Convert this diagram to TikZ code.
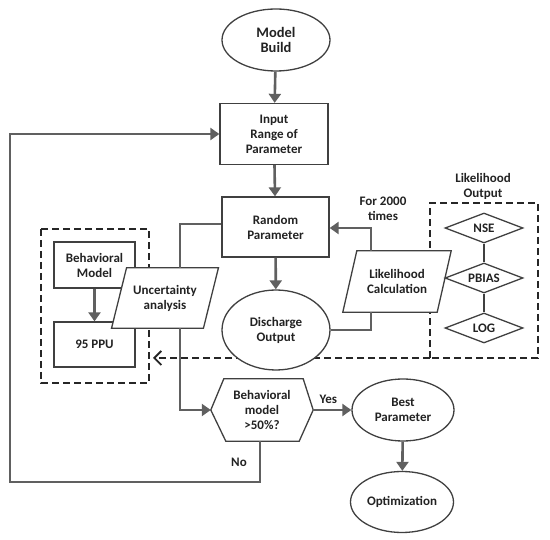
\documentclass[tikz,border=0pt]{standalone}
\usepackage{fontspec}
\setmainfont{Carlito}
\usetikzlibrary{arrows.meta,shapes.geometric,calc}
\definecolor{conn}{HTML}{606060}
\definecolor{bord}{HTML}{404040}
\definecolor{txtc}{HTML}{222222}
\tikzset{
  every node/.style={font=\bfseries\fontsize{13}{15}\selectfont, text=txtc, align=center, inner sep=0pt},
  boxst/.style={draw=bord, line width=1.3pt, rectangle, minimum width=#1},
  ellst/.style={draw=bord, line width=1.3pt, ellipse},
  plain/.style={minimum width=#1},
  diast/.style={draw=bord, line width=1.3pt, diamond, aspect=2.6, minimum width=78pt, minimum height=30pt},
  conline/.style={draw=conn, line width=2.6pt},
  arr/.style={conline, -{Triangle[length=9pt,width=12pt]}},
  shapeline/.style={draw=bord, line width=1.3pt},
  dashst/.style={draw=black!85, line width=1.8pt, dash pattern=on 7pt off 4pt},
}
\begin{document}
\begin{tikzpicture}[x=1pt,y=-1pt]
\useasboundingbox (0,0) rectangle (550,540);
% dashed boxes (behind the parallelograms)
\draw[dashst] (41,229) rectangle (149,383);
\coordinate (lotl) at (430,203);
\coordinate (lobr) at (538,358);
\coordinate (lobl) at (430,358);
\coordinate (dtip) at (153,358);
\draw[dashst] (lobl) -- (lotl) -- (538,203) -- (lobr) -- (lobl);
\draw[dashst, -{Straight Barb[length=7pt,width=14pt]}] (lobl) -- (dtip);
% nodes
\node[ellst, minimum width=108pt, minimum height=62pt, font=\bfseries\fontsize{14.5}{14.5}\selectfont] (mb) at (276,40) {Model\\Build};
\node[boxst=108pt, minimum height=61pt] (inp) at (274,134) {Input\\Range of\\Parameter};
\node[boxst=107pt, minimum height=60pt] (rp) at (275.5,227) {Random\\Parameter};
\node[ellst, fill=white, minimum width=108pt, minimum height=80pt] (dis) at (276,330) {Discharge\\Output};
\node[plain=94pt, minimum height=61pt] (lc) at (397,281.5) {};
\fill[white] ([xshift=7pt]lc.north west) -- ([xshift=7pt]lc.north east) -- ([xshift=-7pt]lc.south east) -- ([xshift=-7pt]lc.south west) -- cycle;
\draw[shapeline] ([xshift=7pt]lc.north west) -- ([xshift=7pt]lc.north east) -- ([xshift=-7pt]lc.south east) -- ([xshift=-7pt]lc.south west) -- cycle;
\node (lctext) at (lc) {Likelihood\\Calculation};
\node (ft) at (383,209) {For 2000\\times};
\node (lo) at (483,186) {Likelihood\\Output};
\node[diast] (nse) at (484,228) {NSE};
\node[diast] (pb) at (484,278) {PBIAS};
\node[diast] (log) at (484,328) {LOG};
\node[boxst=81pt, minimum height=46pt] (bm) at (94.5,265) {Behavioral\\Model};
\node[boxst=81pt, minimum height=45pt] (ppu) at (94.5,344.5) {95 PPU};
\draw[arr] (bm) -- (ppu);
\node[plain=91.5pt, minimum height=60pt] (unc) at (165,298) {};
\fill[white] ([xshift=7.5pt]unc.north west) -- ([xshift=7.5pt]unc.north east) -- ([xshift=-7.5pt]unc.south east) -- ([xshift=-7.5pt]unc.south west) -- cycle;
\draw[shapeline] ([xshift=7.5pt]unc.north west) -- ([xshift=7.5pt]unc.north east) -- ([xshift=-7.5pt]unc.south east) -- ([xshift=-7.5pt]unc.south west) -- cycle;
\node (unctext) at (unc) {Uncertainty\\analysis};
\node[plain=102pt, minimum height=62pt] (hex) at (262,410) {};
\draw[shapeline] (hex.west) -- ([xshift=13pt]hex.north west) -- ([xshift=-10pt]hex.north east) -- (hex.east) -- ([xshift=-14pt]hex.south east) -- ([xshift=15pt]hex.south west) -- cycle;
\node (hextext) at (hex) {Behavioral\\model\\>50\%?};
\node[ellst, minimum width=102pt, minimum height=62pt] (bp) at (403,410) {Best\\Parameter};
\node[ellst, minimum width=103pt, minimum height=61pt] (opt) at (402,502) {Optimization};
% connectors
\draw[arr] (mb) -- (inp);
\draw[arr] (inp) -- (rp);
\draw[arr] (rp) -- (dis);
\draw[conline] (dis.east) -| ([xshift=-26pt]lc.south);
\draw[arr] ([xshift=-26pt]lc.north) |- ([yshift=-1pt]rp.east);
\draw[conline] ([yshift=3pt]rp.west) -| ([xshift=15pt]unc.north);
\draw[arr] ([xshift=15pt]unc.south) |- (hex.west);
\draw[arr] (hex.east) -- node[above=5pt, pos=0.4] (yes) {Yes} (bp.west);
\draw[arr] (bp) -- (opt);
\coordinate (nocorner) at (10,482);
\draw[arr] ([xshift=-2pt]hex.south) |- (nocorner) |- (inp.west);
\node (no) at (239,462) {No};
\draw[shapeline] (nse) -- (pb) -- (log);
\end{tikzpicture}
\end{document}
